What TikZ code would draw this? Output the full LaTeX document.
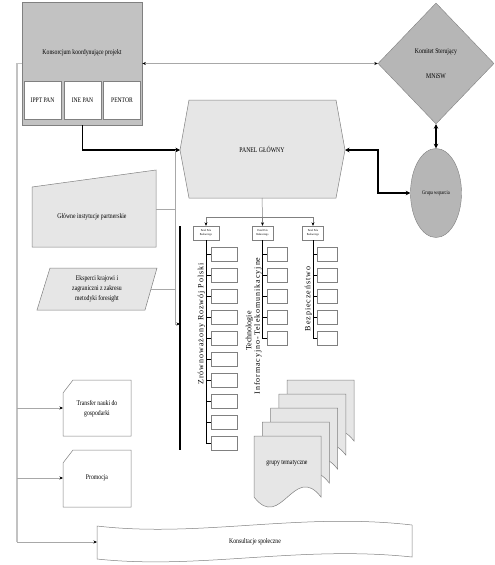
\documentclass[tikz,border=0pt]{standalone}
\usepackage{fontspec}
\setmainfont{Liberation Serif}[FakeStretch=0.8]
\newfontfamily\spacedfont{Liberation Serif}[LetterSpace=12]
\newfontfamily\plainserif{Liberation Serif}
\usetikzlibrary{arrows.meta,shapes.geometric}
\definecolor{kgray}{HTML}{C2C2C2}
\definecolor{dgray}{HTML}{B6B6B6}
\definecolor{lgray}{HTML}{E6E6E6}
\definecolor{bgray}{HTML}{808080}
\definecolor{cgray}{HTML}{A8A8A8}
\begin{document}
\begin{tikzpicture}[x=1pt,y=-1pt,
  lbl/.style={font=\fontsize{7.2}{10}\selectfont, align=center, inner sep=0pt},
  subbox/.style={draw=bgray, fill=white, minimum width=37pt, minimum height=38pt, inner sep=0pt, font=\fontsize{7}{8}\selectfont},
  ppbox/.style={draw=bgray, fill=white, minimum height=14pt, inner sep=0pt, align=center, font=\fontsize{3}{3.6}\selectfont},
  sbox/.style={draw=bgray, fill=white, minimum height=14pt, inner sep=0pt},
  rotlbl/.style={rotate=90, inner sep=0pt, font=\spacedfont\fontsize{8}{9}\selectfont},
  shp/.style={draw=bgray, line width=0.5pt},
  conn/.style={draw=cgray, line width=0.8pt},
  bconn/.style={draw=black, line width=1.1pt},
  spine/.style={draw=black, line width=1pt},
  tip/.style={-{Stealth[length=3.5pt,width=3pt,color=black]}},
  tips/.style={{Stealth[length=3.5pt,width=3pt,color=black]}-{Stealth[length=3.5pt,width=3pt,color=black]}},
  btip/.style={-{Stealth[length=4.5pt,width=4.5pt]}},
  btips/.style={{Stealth[length=4.5pt,width=4.5pt]}-{Stealth[length=4.5pt,width=4.5pt]}}
]
\useasboundingbox (0,0) rectangle (495,565);

% Konsorcjum
\node[draw=bgray, fill=kgray, minimum width=120pt, minimum height=123pt, inner sep=0pt, anchor=north west] (kons) at (22,2) {};
\node[lbl] (konst) at (82,53) {Konsorcjum koordynujące projekt};
\node[subbox] (ippt) at (42.5,100) {IPPT PAN};
\node[subbox] (ine) at (82.5,100) {INE PAN};
\node[subbox] (pentor) at (122,100) {PENTOR};

% Komitet
\node[diamond, draw=bgray, fill=dgray, minimum width=116pt, minimum height=121pt, inner sep=0pt] (kom) at (436,63.5) {};
\node[lbl] (komt1) at (436,52) {Komitet Sterujący};
\node[lbl] (komt2) at (436,76) {MNiSW};

% Grupa wsparcia
\node[ellipse, draw=bgray, fill=dgray, minimum width=51pt, minimum height=89pt, inner sep=0pt, font=\fontsize{5.5}{6.5}\selectfont] (gw) at (436,193) {Grupa wsparcia};

% Panel glowny
\coordinate (pgW) at (180,150);
\coordinate (pgE) at (345,150);
\coordinate (pgS) at (262,198);
\draw[shp, fill=lgray] (189,100) -- (336,100) -- (pgE) -- (336,198) -- (189,198) -- (pgW) -- cycle;
\node[lbl] (pg) at (262,149) {PANEL GŁÓWNY};

% Glowne instytucje
\draw[shp, fill=lgray] (32,187) -- (156,170) -- (156,247) -- (32,247) -- cycle;
\node[lbl] (gi) at (92,217) {Główne instytucje partnerskie};
\coordinate (giE) at (156,209);

% Eksperci
\draw[shp, fill=lgray] (50,268) -- (157,268) -- (145,310) -- (37,310) -- cycle;
\node[lbl] (eks) at (97,289) {Eksperci krajowi i\\zagraniczni z zakresu\\metodyki foresight};
\coordinate (eksE) at (151,289);

% Transfer & Promocja
\draw[shp, fill=white] (73,380) -- (131,380) -- (131,436) -- (63,436) -- (63,393) -- cycle;
\node[lbl] (tr) at (97,409) {Transfer nauki do\\gospodarki};
\coordinate (trW) at (63,408);
\draw[shp, fill=white] (73,450) -- (131,450) -- (131,507) -- (63,507) -- (63,463) -- cycle;
\node[lbl] (pr) at (97,478) {Promocja};
\coordinate (prW) at (63,478);

% Konsultacje spoleczne (tape)
\draw[shp, fill=white] (97,526) .. controls (200,538) and (300,512) .. (412,525) -- (412,557) .. controls (300,545) and (200,570) .. (97,559) -- cycle;
\node[lbl] (ks) at (255,542) {Konsultacje społeczne};
\coordinate (ksW) at (97,542);

% grupy tematyczne (stack)
\foreach \i in {4,3,2,1,0} {
  \pgfmathsetmacro{\xo}{254+8.25*\i}
  \pgfmathsetmacro{\yo}{436-14*\i}
  \draw[shp, fill=lgray] (\xo,\yo) -- ({\xo+67},\yo) -- ({\xo+67},{\yo+61})
    .. controls ({\xo+40},{\yo+61-35}) and ({\xo+27},{\yo+61+35}) .. (\xo,{\yo+61}) -- cycle;
}
\node[lbl] (gt) at (287,463) {grupy tematyczne};

% Panel Pola Badawczego boxes
\node[ppbox, minimum width=26pt] (pp1) at (206,233) {Panel Pola\\Badawczego};
\node[ppbox, minimum width=21pt] (pp2) at (262.5,233) {Panel Pola\\Badawczego};
\node[ppbox, minimum width=21pt] (pp3) at (313,233) {Panel Pola\\Badawczego};

% tree from panel glowny
\coordinate (tj) at (262.5,217);
\draw[conn, draw=bgray, line width=0.5pt] (pgS) -- (tj);
\draw[conn, draw=bgray, line width=0.5pt, tip] (tj) -| (pp1.north);
\draw[conn, draw=bgray, line width=0.5pt, tip] (tj) -- (pp2.north);
\draw[conn, draw=bgray, line width=0.5pt, tip] (tj) -| (pp3.north);

% spines and small boxes
\draw[spine] (pp1.south) -- (206,443.5);
\foreach \i in {0,...,9} {
  \node[sbox, minimum width=26pt] (a\i) at (224,{254.5+21*\i}) {};
  \draw[spine] (206,{254.5+21*\i}) -- (a\i.west);
}
\draw[spine] (pp2.south) -- (262.5,338.5);
\foreach \i in {0,...,4} {
  \node[sbox, minimum width=20pt] (b\i) at (277,{254.5+21*\i}) {};
  \draw[spine] (262.5,{254.5+21*\i}) -- (b\i.west);
}
\draw[spine] (pp3.south) -- (313,338.5);
\foreach \i in {0,...,4} {
  \node[sbox, minimum width=20pt] (c\i) at (327,{254.5+21*\i}) {};
  \draw[spine] (313,{254.5+21*\i}) -- (c\i.west);
}

% rotated labels
\node[rotlbl] (zr) at (201.5,324) {Zrównoważony Rozwój Polski};
\node[rotlbl, font=\plainserif\fontsize{8}{9}\selectfont] (tech1) at (249.5,331) {Technologie};
\node[rotlbl] (tech2) at (258,326) {Informacyjno-Telekomunikacyjne};
\node[rotlbl] (bez) at (308.5,299) {Bezpieczeństwo};

% thick black vertical line
\coordinate (tvT) at (180,226);
\coordinate (tvB) at (180,450);
\draw[draw=black, line width=2pt] (tvT) -- (tvB);

% connectors
\draw[conn, tips] (kons.east |- kom.west) -- (kom.west);
\draw[conn, line width=1.1pt, draw=cgray!70] (kons.west |- kom.west) -- (17,63.5) -- (17,542) coordinate (lb);
\draw[conn, tip] (17,408) -- (trW);
\draw[conn, tip] (17,478) -- (prW);
\draw[conn, tip] (lb) -- (ksW);
\draw[bconn, btip] (kons.south) |- (pgW);
\draw[bconn, btips] (pgE) -- (378,150) |- (gw.west);
\draw[bconn, btips] (kom.south) -- (gw.north);
\draw[conn] (giE) -- (175,209);
\draw[conn] (eksE) -- (175,289);
\draw[conn, tip] (175,150) -- (175,324) -- (tvT |- 0,324);
\end{tikzpicture}
\end{document}
